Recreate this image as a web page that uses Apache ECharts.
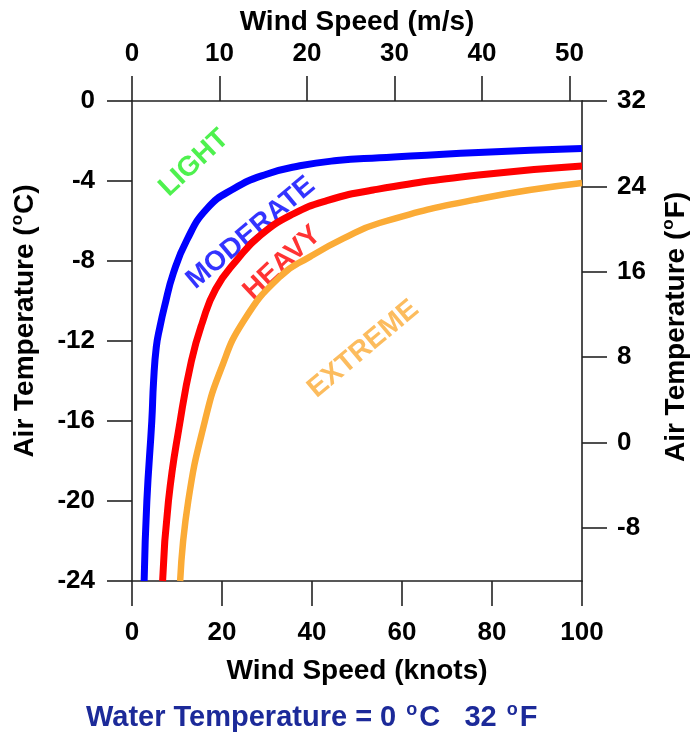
<!DOCTYPE html>
<html>
<head>
<meta charset="utf-8">
<script src="https://cdn.jsdelivr.net/npm/echarts@6/dist/echarts.min.js"></script>
<style>
html,body{margin:0;padding:0;background:#fff;}
#chart{width:695px;height:736px;}
</style>
</head>
<body>
<div id="chart"></div>
<script>
// ---- Data (wind speed in knots, air temperature in °C) ----
var lightModerateKnots = [2.7, 3.3, 4.4, 4.8, 5.4, 6.2, 7.2, 9.2, 12.2, 16.6, 22.5, 29.9, 37.3, 45.5, 55, 77, 100];
var lightModerateTemp  = [-24, -20, -16, -14, -12.3, -11.3, -10.3, -8.6, -6.95, -5.4, -4.4, -3.66, -3.24, -2.98, -2.84, -2.57, -2.37];

var moderateHeavyKnots = [6.8, 8.1, 10.7, 13.2, 15.6, 18.6, 23.3, 28.6, 35.8, 43.3, 53.6, 77, 100];
var moderateHeavyTemp  = [-24, -20, -16, -13, -11.1, -9.4, -7.95, -6.7, -5.65, -4.98, -4.45, -3.7, -3.25];

var heavyExtremeKnots = [10.7, 12.5, 16.2, 19.7, 24.8, 32.9, 39.6, 47, 55, 77, 100];
var heavyExtremeTemp  = [-24, -20, -16, -13.45, -11, -8.78, -7.78, -6.87, -6.1, -4.9, -4.1];

var annotationNames = ['LIGHT', 'MODERATE', 'HEAVY', 'EXTREME'];
var annotationKnots = [13.8, 26.4, 33.4, 51.4];
var annotationTemps = [-3.1, -6.6, -8.1, -12.4];

var knotsTicks = [0, 20, 40, 60, 80, 100];
var msTicks = [0, 10, 20, 30, 40, 50];
var celsiusTicks = [-24, -20, -16, -12, -8, -4, 0];
var fahrenheitTicks = [-8, 0, 8, 16, 24, 32];

var knotsMin = 0, knotsMax = 100;
var msMax = knotsMax / 1.944;
var celsiusMin = -24, celsiusMax = 0;
var fahrenheitMin = -13, fahrenheitMax = 32;

// ---- helpers ----
function pairs(xs, ys) { return xs.map(function (x, i) { return [x, ys[i]]; }); }

var FONT = '"Liberation Sans", Arial, Helvetica, sans-serif';
var AXIS_COLOR = '#222';

var annColors = ['#22ee22', '#0000ff', '#ff0000', '#fbab36'];
var annRotate = [43, 40, 43, 40];

var chart = echarts.init(document.getElementById('chart'), null, {renderer: 'canvas'});

function axisCommon() {
  return {
    axisLine: {show: true, onZero: false, lineStyle: {color: AXIS_COLOR, width: 1.6}},
    splitLine: {show: false}
  };
}
function ticks(vals) {
  return {show: true, inside: false, length: 25, customValues: vals, lineStyle: {color: AXIS_COLOR, width: 1.6}};
}

var labelStyle = {color: '#000', fontFamily: FONT, fontWeight: 'bold', fontSize: 26};
var nameStyle = {color: '#000', fontFamily: FONT, fontWeight: 'bold', fontSize: 28};

function vName(pad) {
  return {
    padding: [0, 0, 0, pad],
    rich: {
      m: {color: '#000', fontFamily: FONT, fontWeight: 'bold', fontSize: 28, lineHeight: 32, verticalAlign: 'bottom'},
      s: {color: '#000', fontFamily: FONT, fontWeight: 'bold', fontSize: 17, lineHeight: 32, verticalAlign: 'top', padding: [2, 1, 0, 1]}
    }
  };
}

var SMOOTH = 0.5;

var option = {
  animation: false,
  backgroundColor: '#fff',
  title: {
    left: 86,
    top: 698,
    padding: 0,
    text: '{m|Water Temperature = 0 }{s|o}{m|C   32 }{s|o}{m|F}',
    textStyle: {
      rich: {
        m: {color: '#1c2a99', fontFamily: FONT, fontWeight: 'bold', fontSize: 29, lineHeight: 34, verticalAlign: 'bottom'},
        s: {color: '#1c2a99', fontFamily: FONT, fontWeight: 'bold', fontSize: 18, lineHeight: 34, verticalAlign: 'top', padding: [3, 2, 0, 2]}
      }
    }
  },
  grid: {left: 132, right: 113, top: 101, bottom: 155, containLabel: false, outerBoundsMode: 'none'},
  xAxis: [
    Object.assign(axisCommon(), {
      type: 'value', position: 'bottom', min: knotsMin, max: knotsMax,
      axisLabel: Object.assign({margin: 39, customValues: knotsTicks}, labelStyle),
      axisTick: ticks(knotsTicks),
      name: 'Wind Speed (knots)', nameLocation: 'middle', nameGap: 76,
      nameTextStyle: nameStyle
    }),
    Object.assign(axisCommon(), {
      type: 'value', position: 'top', min: 0, max: msMax,
      axisLabel: Object.assign({margin: 34, customValues: msTicks}, labelStyle),
      axisTick: ticks(msTicks),
      name: 'Wind Speed (m/s)', nameLocation: 'middle', nameGap: 52,
      nameTextStyle: nameStyle
    })
  ],
  yAxis: [
    Object.assign(axisCommon(), {
      type: 'value', position: 'left', min: celsiusMin, max: celsiusMax,
      axisLabel: Object.assign({margin: 37, customValues: celsiusTicks}, labelStyle),
      axisTick: ticks(celsiusTicks),
      name: '{m|Air Temperature (}{s|o}{m|C)}', nameLocation: 'middle', nameGap: 93, nameRotate: 90,
      nameTextStyle: vName(40)
    }),
    Object.assign(axisCommon(), {
      type: 'value', position: 'right', min: fahrenheitMin, max: fahrenheitMax,
      axisLabel: Object.assign({margin: 35, customValues: fahrenheitTicks}, labelStyle),
      axisTick: ticks(fahrenheitTicks),
      name: '{m|Air Temperature (}{s|o}{m|F)}', nameLocation: 'middle', nameGap: 76, nameRotate: 90,
      nameTextStyle: vName(28)
    })
  ],
  series: [
    {
      name: 'Light/Moderate', type: 'line', xAxisIndex: 0, yAxisIndex: 0,
      data: pairs(lightModerateKnots, lightModerateTemp),
      smooth: SMOOTH, showSymbol: false, clip: true,
      lineStyle: {color: '#0000ff', width: 7}
    },
    {
      name: 'Moderate/Heavy', type: 'line', xAxisIndex: 0, yAxisIndex: 0,
      data: pairs(moderateHeavyKnots, moderateHeavyTemp),
      smooth: SMOOTH, showSymbol: false, clip: true,
      lineStyle: {color: '#ff0000', width: 7}
    },
    {
      name: 'Heavy/Extreme', type: 'line', xAxisIndex: 0, yAxisIndex: 0,
      data: pairs(heavyExtremeKnots, heavyExtremeTemp),
      smooth: SMOOTH, showSymbol: false, clip: true,
      lineStyle: {color: '#fbab36', width: 6.5}
    },
    {
      name: 'Labels', type: 'scatter', xAxisIndex: 0, yAxisIndex: 0,
      symbolSize: 0, silent: true,
      data: annotationNames.map(function (n, i) {
        return {
          name: n,
          value: [annotationKnots[i], annotationTemps[i]],
          label: {
            show: true, position: 'inside', formatter: n, rotate: annRotate[i],
            color: annColors[i], fontFamily: FONT, fontWeight: 'bold', fontSize: 28
          }
        };
      })
    }
  ]
};
chart.setOption(option);
</script>
</body>
</html>
